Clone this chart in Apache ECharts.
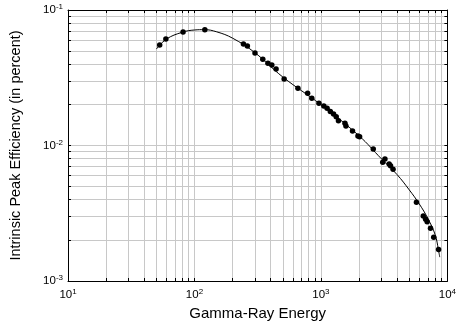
<!DOCTYPE html>
<html><head><meta charset="utf-8">
<script src="https://cdn.jsdelivr.net/npm/echarts@6/dist/echarts.min.js"></script>
<style>html,body{margin:0;padding:0;background:#fff}#c{width:459px;height:330px}</style>
</head><body><div id="c"></div>
<script>
// measured points: energy (x) and efficiency (y)
const pointEnergy = [53.1, 59.4, 81.3, 120.8, 244, 262, 301, 347, 381, 409, 442, 512, 658, 785, 847, 965, 1054, 1119, 1187, 1259, 1321, 1376, 1549, 1577, 1777, 1963, 2023, 2593, 3081, 3209, 3463, 3551, 3719, 5694, 6449, 6730, 6920, 7355, 7798, 8521];
const pointEff = [0.0552, 0.0611, 0.0688, 0.0716, 0.0561, 0.0542, 0.0482, 0.0433, 0.0404, 0.0393, 0.0367, 0.0310, 0.0264, 0.0243, 0.0223, 0.0205, 0.0196, 0.0188, 0.0178, 0.0171, 0.0163, 0.01524, 0.01459, 0.01393, 0.0128, 0.01175, 0.01161, 0.00942, 0.00752, 0.00795, 0.0073, 0.0071, 0.00667, 0.00381, 0.00302, 0.00285, 0.00274, 0.00245, 0.0021, 0.00171];
// fitted curve
const curveEnergy = [50, 60, 80, 100, 120, 150, 200, 300, 500, 1000, 2000, 3000, 4000, 5000, 6000, 7000, 8000, 8500, 8700];
const curveEff = [0.0515, 0.0610, 0.0685, 0.0712, 0.0716, 0.0690, 0.0620, 0.0485, 0.0320, 0.0200, 0.0118, 0.0080, 0.0061, 0.0047, 0.0037, 0.0029, 0.0022, 0.0017, 0.0015];
// axis ticks
const xTicks = [10,20,30,40,50,60,70,80,90,100,200,300,400,500,600,700,800,900,1000,2000,3000,4000,5000,6000,7000,8000,9000,10000];
const xLabels = [10, 100, 1000, 10000];
const yTicks = [0.001,0.002,0.003,0.004,0.005,0.006,0.007,0.008,0.009,0.01,0.02,0.03,0.04,0.05,0.06,0.07,0.08,0.09,0.1];
const yLabels = [0.001, 0.01, 0.1];

const FONT = 'Liberation Sans, Arial, sans-serif';
function expLabel(v) {
  const e = Math.round(Math.log10(v));
  return '{b|10}{s|' + (e < 0 ? '-' : '') + Math.abs(e) + '}';
}
const rich = {
  b: {fontSize: 11.5, fontFamily: FONT, color: '#000'},
  s: {fontSize: 8, fontFamily: FONT, color: '#000', padding: [0, 0, 6, 0]}
};
function xAxisDef(pos, labels) {
  return {
    type: 'log', logBase: 10, min: 10, max: 10000, position: pos,
    name: labels ? 'Gamma-Ray Energy' : '', nameLocation: 'middle', nameGap: 23,
    nameTextStyle: {fontSize: 15, fontFamily: FONT, color: '#000'},
    axisLine: {show: true, onZero: false, lineStyle: {color: '#000', width: 1}},
    axisTick: {show: true, inside: true, length: 3, customValues: xTicks, lineStyle: {color: '#000'}},
    splitLine: {show: labels, lineStyle: {color: '#c8c8c8', width: 1}},
    axisLabel: {show: labels, customValues: xLabels, formatter: expLabel, rich: rich, margin: 7}
  };
}
function yAxisDef(pos, labels) {
  return {
    type: 'log', logBase: 10, min: 0.001, max: 0.1, position: pos,
    name: labels ? 'Intrinsic Peak Efficiency (in percent)' : '', nameLocation: 'middle', nameGap: 45,
    nameTextStyle: {fontSize: 14.5, fontFamily: FONT, color: '#000'},
    axisLine: {show: true, onZero: false, lineStyle: {color: '#000', width: 1}},
    axisTick: {show: true, inside: true, length: 3, customValues: yTicks, lineStyle: {color: '#000'}},
    splitLine: {show: labels, lineStyle: {color: '#c8c8c8', width: 1}},
    axisLabel: {show: labels, customValues: yLabels, formatter: expLabel, rich: rich, margin: 5}
  };
}
const chart = echarts.init(document.getElementById('c'), null, {renderer: 'canvas'});
chart.setOption({
  animation: false,
  backgroundColor: '#fff',
  grid: {left: 60, right: 10, top: 10, bottom: 49},
  xAxis: [xAxisDef('bottom', true), xAxisDef('top', false)],
  yAxis: [yAxisDef('left', true), yAxisDef('right', false)],
  series: [
    {type: 'line', data: curveEnergy.map((x, i) => [x, curveEff[i]]), smooth: 0.4, showSymbol: false,
     lineStyle: {color: '#000', width: 1}, z: 3},
    {type: 'scatter', data: pointEnergy.map((x, i) => [x, pointEff[i]]), symbolSize: 5.5,
     itemStyle: {color: '#000', opacity: 1}, z: 4}
  ]
});
</script></body></html>
